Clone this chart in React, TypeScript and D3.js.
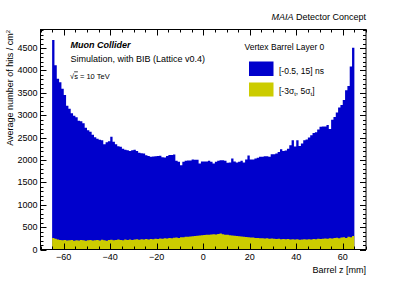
import * as d3 from "d3";

// bins: 1 mm wide, from -65 to 65 mm
const zMin = -65;
const binWidth = 1;

// [-0.5, 15] ns window
const blueCounts = [
  4678, 4119, 3817, 3739, 3594, 3449, 3214, 3147, 3046, 2990,
  2957, 2879, 2867, 2823, 2722, 2666, 2633, 2566, 2510, 2476,
  2454, 2443, 2353, 2398, 2420, 2517, 2409, 2353, 2309, 2298,
  2253, 2230, 2219, 2200, 2220, 2230, 2200, 2160, 2150, 2146,
  2108, 2090, 2070, 2075, 2085, 2090, 2092, 2060, 2056, 2090,
  2110, 2114, 2123, 1980, 1958, 1884, 1960, 1980, 1989, 1989,
  2011, 2003, 2003, 1922, 1967, 1967, 1967, 1980, 1958, 1922,
  1958, 1980, 1996, 1996, 1980, 1936, 1944, 2034, 1967, 1944,
  1958, 1980, 1944, 2011, 2101, 2011, 2011, 2034, 2050, 2070,
  2070, 2085, 2085, 2070, 2130, 2130, 2146, 2181, 2240, 2200,
  2210, 2250, 2330, 2440, 2300, 2440, 2310, 2370, 2440, 2460,
  2500, 2550, 2600, 2620, 2680, 2740, 2750, 2750, 2780, 2690,
  2900, 2960, 3060, 3170, 3230, 3340, 3560, 3650, 4090, 4510,
];

// [-3 sigma_t, 5 sigma_t] window
const yellowCounts = [
  255, 240, 222, 215, 205, 212, 200, 206, 212, 198,
  205, 201, 210, 204, 198, 207, 211, 199, 205, 212,
  203, 216, 205, 198, 210, 216, 204, 211, 221, 214,
  209, 222, 214, 226, 213, 221, 227, 219, 231, 224,
  232, 224, 236, 229, 241, 233, 246, 238, 251, 244,
  256, 249, 262, 266, 258, 271, 276, 283, 286, 292,
  297, 301, 306, 313, 316, 322, 327, 331, 336, 342,
  336, 347, 356, 341, 331, 327, 319, 311, 306, 299,
  296, 289, 286, 279, 276, 268, 266, 259, 256, 254,
  251, 244, 252, 239, 246, 241, 234, 241, 229, 236,
  231, 236, 224, 231, 226, 229, 219, 226, 231, 224,
  231, 224, 236, 229, 241, 234, 241, 246, 239, 251,
  244, 256, 261, 249, 266, 271, 259, 286, 274, 302,
];

const legendLabels = ["[-0.5, 15] ns", "[-3σt, 5σt]"];
const seriesColors = ["#0000cc", "#cccc00"];

const W = 407;
const H = 294;
const left = 40.5;
const right = 366;
const top = 29.5;
const bottom = 249.5;
const font = "'Liberation Sans', Arial, Helvetica, sans-serif";

const x = d3.scaleLinear().domain([-70, 70]).range([left, right]);
const y = d3.scaleLinear().domain([0, 4915]).range([bottom, top]);

const toPoints = (vals: number[]) => {
  const pts = vals.map((v, i) => [zMin + i * binWidth, v] as [number, number]);
  pts.push([zMin + vals.length * binWidth, vals[vals.length - 1]]);
  return pts;
};

const area = d3
  .area<[number, number]>()
  .x((d) => x(d[0]))
  .y0(y(0))
  .y1((d) => y(d[1]))
  .curve(d3.curveStepAfter);

const xMajor = x.ticks(7);
const xMinor = x.ticks(28);
const yMajor = y.ticks(10);
const yMinor = y.ticks(50);

export default function App() {
  const majorLen = 6;
  const minorLen = 3;
  return (
    <svg
      width={W}
      height={H}
      style={{ position: "absolute", left: 0, top: 0, background: "#fff" }}
      fontFamily={font}
    >
      <path d={area(toPoints(blueCounts)) || ""} fill={seriesColors[0]} />
      <path d={area(toPoints(yellowCounts)) || ""} fill={seriesColors[1]} />

      {/* frame */}
      <rect x={left} y={top} width={right - left} height={bottom - top} fill="none" stroke="#000" strokeWidth={1} />

      {/* x ticks bottom and top */}
      {xMinor.map((t) => {
        const len = xMajor.includes(t) ? majorLen : minorLen;
        const px = Math.round(x(t)) + 0.5;
        return (
          <g key={"xt" + t}>
            <line x1={px} x2={px} y1={bottom} y2={bottom - len} stroke="#000" />
            <line x1={px} x2={px} y1={top} y2={top + len} stroke="#000" />
          </g>
        );
      })}
      {xMajor.map((t) => (
        <text key={"xl" + t} x={x(t)} y={259.5} fontSize={9} textAnchor="middle">
          {t < 0 ? "\u2212" + Math.abs(t) : t}
        </text>
      ))}

      {/* y ticks left and right */}
      {yMinor.map((t) => {
        const len = yMajor.includes(t) ? majorLen : minorLen;
        const py = Math.round(y(t)) + 0.5;
        return (
          <g key={"yt" + t}>
            <line x1={left} x2={left + len} y1={py} y2={py} stroke="#000" />
            <line x1={right} x2={right - len} y1={py} y2={py} stroke="#000" />
          </g>
        );
      })}
      {yMajor.map((t) => (
        <text key={"yl" + t} x={37.5} y={y(t)} fontSize={9} textAnchor="end" dominantBaseline="central">
          {t}
        </text>
      ))}

      {/* axis titles */}
      <text x={366} y={272.5} fontSize={9} textAnchor="end">Barrel z [mm]</text>
      <text transform="translate(12.5,30) rotate(-90)" fontSize={9} textAnchor="end">
        Average number of hits / cm<tspan dy={-3} fontSize={6}>2</tspan>
      </text>

      {/* top right label */}
      <text x={366} y={20} fontSize={9} textAnchor="end">
        <tspan fontStyle="italic">MAIA</tspan> Detector Concept
      </text>

      {/* top left labels */}
      <text x={70.5} y={47.5} fontSize={9} fontWeight="bold" fontStyle="italic">Muon Collider</text>
      <text x={70.5} y={62} fontSize={9}>Simulation, with BIB (Lattice v0.4)</text>
      <text x={70} y={78.5} fontSize={7.5}>
        √<tspan style={{ textDecoration: "overline" }}>s</tspan> = 10 TeV
      </text>

      {/* legend */}
      <text x={244.5} y={49.5} fontSize={8.5}>Vertex Barrel Layer 0</text>
      <rect x={249} y={61.5} width={24.5} height={14.5} fill={seriesColors[0]} />
      <rect x={249} y={82.5} width={24.5} height={14} fill={seriesColors[1]} />
      <text x={279} y={73.5} fontSize={8.5}>{legendLabels[0]}</text>
      <text x={279} y={93.5} fontSize={8.5}>
        [-3σ<tspan dy={2} fontSize={6}>t</tspan>
        <tspan dy={-2}>, 5σ</tspan>
        <tspan dy={2} fontSize={6}>t</tspan>
        <tspan dy={-2}>]</tspan>
      </text>
    </svg>
  );
}
